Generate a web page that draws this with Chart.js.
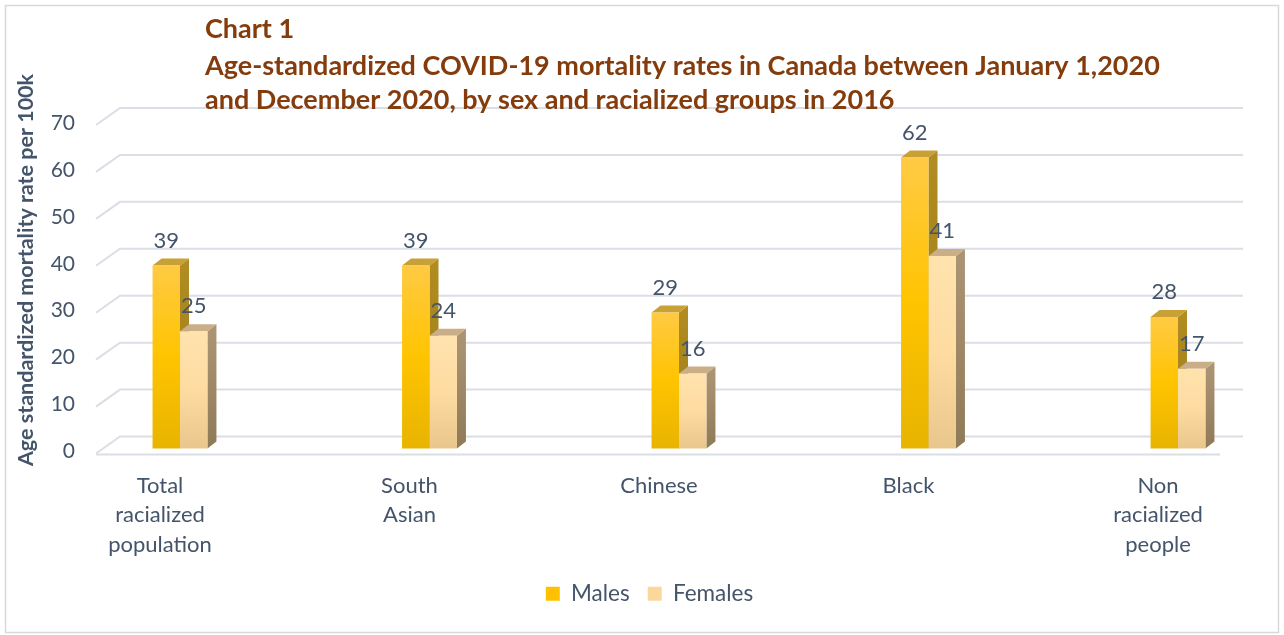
<!DOCTYPE html>
<html>
<head>
<meta charset="utf-8">
<script src="https://cdn.jsdelivr.net/npm/chart.js@4"></script>
<style>
  body { margin: 0; background: #fff; }
</style>
</head>
<body>
<canvas id="chart" width="1284" height="635"></canvas>
<script>
// chart data
const categories = [['Total', 'racialized', 'population'], ['South', 'Asian'], 'Chinese', 'Black', ['Non', 'racialized', 'people']];
const males = [39, 39, 29, 62, 28];
const females = [25, 24, 16, 41, 17];
const seriesNames = ['Males', 'Females'];
const yMin = 0, yMax = 70, yStep = 10;
const titleLines = [
    'Chart 1',
    'Age-standardized COVID-19 mortality rates in Canada between January 1,2020',
    'and December 2020, by sex and racialized groups in 2016'
];
const yTitle = 'Age standardized mortality rate per 100k';

const FONT = 'Lato';
const TEXT = '#44546a';
const TITLE_COLOR = '#843c0c';
const GRID = '#dcdee5';

// face colours per series: front gradient, side, top
const faces = [
    { front: ['#ffca44', '#ffc400', '#e8b400'], side: ['#b08c22', '#9c7c16'], top: '#c9a035', legend: '#ffc000' },
    { front: ['#ffe2ad', '#fedca1', '#e8c68c'], side: ['#ab9473', '#8f7a58'], top: '#c9ae88', legend: '#fad89c' }
];
// 3D offsets
const BAR_DX = 9, BAR_DY = -7;
const WALL_DX = 24, WALL_DY = -17;

function frontGradient(ctx, series) {
    const chart = ctx.chart;
    if (!chart.chartArea) return faces[series].front[1];
    const y = chart.scales.y;
    const top = y.getPixelForValue(ctx.raw);
    const bot = y.getPixelForValue(0);
    const g = chart.ctx.createLinearGradient(0, top, 0, bot);
    g.addColorStop(0, faces[series].front[0]);
    g.addColorStop(0.5, faces[series].front[1]);
    g.addColorStop(1, faces[series].front[2]);
    return g;
}

const wallsAndDepth = {
    id: 'wallsAndDepth',
    beforeDraw(chart) {
        const c = chart.ctx;
        c.save();
        c.fillStyle = '#fff';
        c.fillRect(0, 0, chart.width, chart.height);
        c.strokeStyle = '#d9d9d9';
        c.lineWidth = 1.5;
        c.strokeRect(5.5, 5.5, chart.width - 11, chart.height - 8);
        c.restore();
    },
    beforeDatasetsDraw(chart) {
        const c = chart.ctx;
        const area = chart.chartArea;
        const y = chart.scales.y;
        const frontLeft = area.left - 84;
        const backLeft = frontLeft + WALL_DX;
        const backRight = area.right + 65;
        c.save();
        c.strokeStyle = GRID;
        c.lineWidth = 2;
        y.ticks.forEach(t => {
            const by = y.getPixelForValue(t.value) - 12;
            c.beginPath();
            c.moveTo(frontLeft, by - WALL_DY);
            c.lineTo(backLeft, by);
            c.lineTo(backRight, by);
            c.stroke();
        });
        // front edge of the floor
        const fy = y.getPixelForValue(0) + 6;
        c.beginPath();
        c.moveTo(frontLeft, fy);
        c.lineTo(area.right + 42, fy);
        c.stroke();

        // side and top faces of the bars
        chart.data.datasets.forEach((ds, di) => {
            const meta = chart.getDatasetMeta(di);
            meta.data.forEach(bar => {
                const l = bar.x - bar.width / 2, r = bar.x + bar.width / 2;
                const top = bar.y, bot = bar.base;
                const sg = c.createLinearGradient(0, top, 0, bot);
                sg.addColorStop(0, faces[di].side[0]);
                sg.addColorStop(1, faces[di].side[1]);
                c.fillStyle = sg;
                c.beginPath();
                c.moveTo(r, top);
                c.lineTo(r + BAR_DX, top + BAR_DY);
                c.lineTo(r + BAR_DX, bot + BAR_DY);
                c.lineTo(r, bot);
                c.closePath();
                c.fill();
                c.fillStyle = faces[di].top;
                c.beginPath();
                c.moveTo(l, top);
                c.lineTo(l + BAR_DX, top + BAR_DY);
                c.lineTo(r + BAR_DX, top + BAR_DY);
                c.lineTo(r, top);
                c.closePath();
                c.fill();
            });
        });
        c.restore();
    },
    afterDatasetsDraw(chart) {
        const c = chart.ctx;
        c.save();
        c.fillStyle = TEXT;
        c.font = '22px ' + FONT;
        c.textAlign = 'center';
        c.textBaseline = 'middle';
        chart.data.datasets.forEach((ds, di) => {
            chart.getDatasetMeta(di).data.forEach((bar, i) => {
                c.fillText(String(ds.data[i]), bar.x, bar.y - 25);
            });
        });
        c.restore();
    },
    afterDraw(chart) {
        const c = chart.ctx;
        c.save();
        c.fillStyle = TITLE_COLOR;
        c.font = 'bold 27px ' + FONT;
        c.textAlign = 'left';
        c.textBaseline = 'middle';
        const rows = [29, 66, 100];
        titleLines.forEach((line, i) => c.fillText(line, 205, rows[i]));

        // y axis title
        c.fillStyle = TEXT;
        c.font = 'bold 21.5px ' + FONT;
        c.textAlign = 'center';
        c.translate(26, 270);
        c.rotate(-Math.PI / 2);
        c.fillText(yTitle, 0, 0);
        c.restore();
    }
};

new Chart(document.getElementById('chart'), {
    type: 'bar',
    data: {
        labels: categories,
        datasets: [
            { label: seriesNames[0], data: males, backgroundColor: ctx => frontGradient(ctx, 0), clip: false,
              categoryPercentage: 0.22, barPercentage: 1 },
            { label: seriesNames[1], data: females, backgroundColor: ctx => frontGradient(ctx, 1), clip: false,
              categoryPercentage: 0.22, barPercentage: 1 }
        ]
    },
    options: {
        responsive: false,
        animation: false,
        layout: { padding: { left: 15, right: 0, top: 120, bottom: 20 } },
        scales: {
            x: {
                offset: false,
                grid: { display: false, drawTicks: false },
                border: { display: false },
                ticks: {
                    color: TEXT,
                    font: { family: FONT, size: 22, lineHeight: 1.36 },
                    padding: 22,
                    labelOffset: -20,
                    maxRotation: 0,
                    autoSkip: false
                },
                afterFit: s => { s.height = 116; }
            },
            y: {
                min: yMin,
                max: yMax,
                grid: { display: false, drawTicks: false },
                border: { display: false },
                ticks: {
                    stepSize: yStep,
                    color: TEXT,
                    font: { family: FONT, size: 21 },
                    padding: 105,
                    labelOffset: 3
                },
                afterFit: s => { s.width = 165; }
            },
            // empty right axis only reserves room for the back wall
            yRight: {
                position: 'right',
                display: true,
                grid: { display: false, drawTicks: false },
                border: { display: false },
                ticks: { display: false },
                afterFit: s => { s.width = 106; }
            }
        },
        plugins: {
            legend: {
                position: 'bottom',
                labels: {
                    boxWidth: 14,
                    boxHeight: 14,
                    padding: 18,
                    color: TEXT,
                    font: { family: FONT, size: 22.5 },
                    generateLabels: chart => chart.data.datasets.map((ds, i) => ({
                        text: ds.label,
                        fillStyle: faces[i].legend,
                        strokeStyle: faces[i].legend,
                        lineWidth: 0,
                        fontColor: TEXT,
                        datasetIndex: i
                    }))
                }
            },
            tooltip: { enabled: false }
        }
    },
    plugins: [wallsAndDepth]
});
</script>
</body>
</html>
